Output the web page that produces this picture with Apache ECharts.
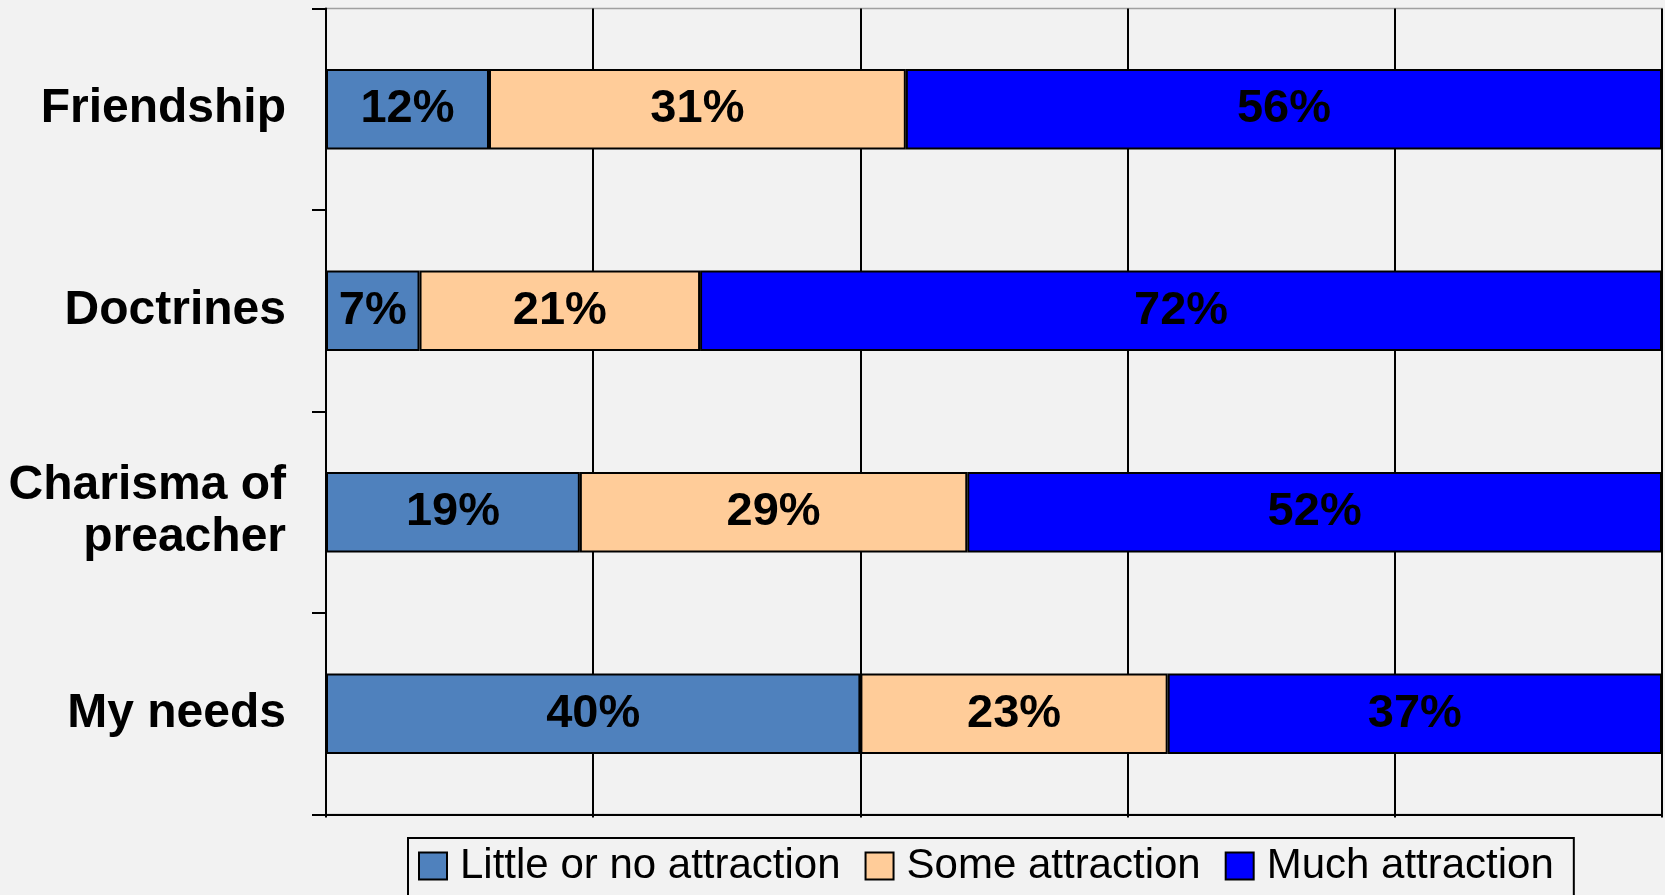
<!DOCTYPE html>
<html><head><meta charset="utf-8">
<script src="https://cdn.jsdelivr.net/npm/echarts@6/dist/echarts.min.js"></script>
<style>html,body{margin:0;padding:0;background:#f2f2f2}#c{width:1665px;height:895px}</style>
</head><body><div id="c"></div>
<script>
const categories = ['Friendship', 'Doctrines', 'Charisma of\npreacher', 'My needs'];
const seriesNames = ['Little or no attraction', 'Some attraction', 'Much attraction'];
const littleVals = [12.2, 7, 19, 40];
const someVals = [31.2, 21, 29, 23];
const muchVals = [56.6, 72, 52, 37];
const littleLabels = ['12%', '7%', '19%', '40%'];
const someLabels = ['31%', '21%', '29%', '23%'];
const muchLabels = ['56%', '72%', '52%', '37%'];
const xTicks = [0, 20, 40, 60, 80, 100];

const colors = ['#4f81bd', '#ffcc99', '#0000ff'];
const labelFont = {fontFamily: 'Liberation Sans, Arial, sans-serif', fontWeight: 'bold', fontSize: 47, color: '#000'};

function mk(i, vals, labels) {
  return {
    name: seriesNames[i], type: 'bar', stack: 'a', data: vals,
    barCategoryGap: '60%',
    itemStyle: {color: colors[i], borderColor: '#000', borderWidth: 2},
    label: Object.assign({show: true, position: 'inside', formatter: p => labels[p.dataIndex]}, labelFont),
    emphasis: {disabled: true}
  };
}

const chart = echarts.init(document.getElementById('c'));
chart.setOption({
  backgroundColor: '#f2f2f2',
  animation: false,
  grid: {left: 326, right: 3, top: 8.5, bottom: 80.5, show: true, borderColor: '#a0a0a0', borderWidth: 1.5, backgroundColor: 'transparent'},
  xAxis: {
    type: 'value', min: xTicks[0], max: xTicks[xTicks.length - 1], interval: 20,
    axisLine: {show: true, lineStyle: {color: '#000', width: 2}},
    axisTick: {show: true, length: 3, lineStyle: {color: '#000', width: 2}},
    axisLabel: {show: false},
    splitLine: {show: true, lineStyle: {color: '#000', width: 2}}
  },
  yAxis: {
    type: 'category', data: categories, inverse: true,
    axisLine: {show: true, lineStyle: {color: '#000', width: 2}},
    axisTick: {show: true, length: 14, lineStyle: {color: '#000', width: 2}},
    axisLabel: {margin: 40, align: 'right', lineHeight: 52, fontFamily: 'Liberation Sans, Arial, sans-serif', fontWeight: 'bold', fontSize: 48, color: '#000'},
    splitLine: {show: false}
  },
  legend: {
    data: seriesNames, left: 408, top: 838, orient: 'horizontal',
    padding: [7, 20, 29, 10], borderColor: '#000', borderWidth: 2,
    itemWidth: 28, itemHeight: 27, itemGap: 24, icon: 'rect',
    itemStyle: {borderColor: '#000', borderWidth: 2},
    textStyle: {fontFamily: 'Liberation Sans, Arial, sans-serif', fontSize: 42, lineHeight: 30, color: '#000', padding: [0, 0, 0, 8]}
  },
  series: [mk(0, littleVals, littleLabels), mk(1, someVals, someLabels), mk(2, muchVals, muchLabels)]
});
</script></body></html>
